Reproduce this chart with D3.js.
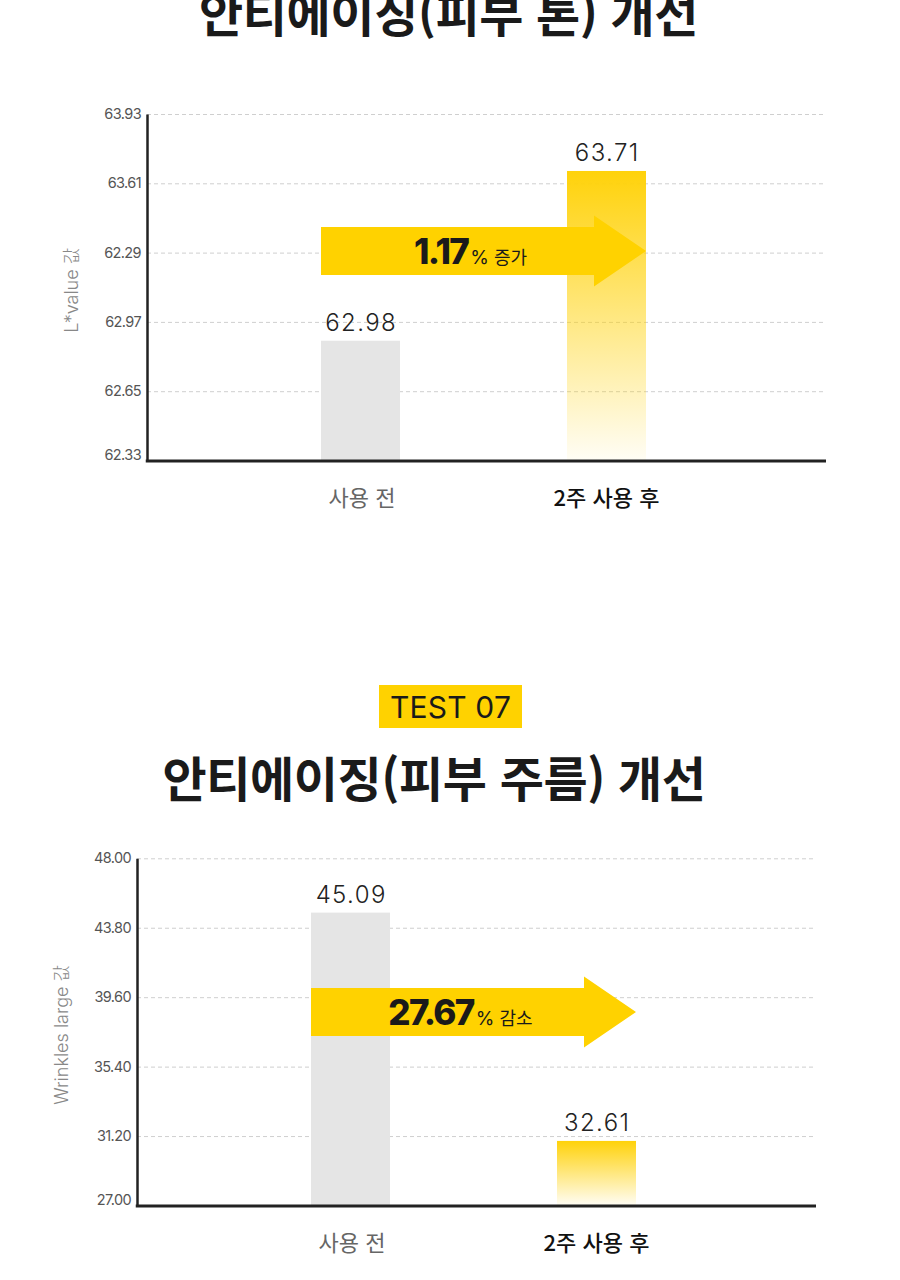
<!DOCTYPE html>
<html lang="ko">
<head>
<meta charset="utf-8">
<script src="https://cdn.jsdelivr.net/npm/d3@7"></script>
<style>
  html, body { margin: 0; padding: 0; background: #fff; }
  svg { display: block; }
  .tick text { font-family: Inter, "Noto Sans", sans-serif; font-size: 14.5px; fill: #555; letter-spacing: -0.6px; }
  .grid line { stroke: #cfcfcf; stroke-dasharray: 4 3; }
  .title { font-family: "Noto Sans CJK KR", sans-serif; font-weight: 700; font-size: 48px; fill: #1a1a1a; letter-spacing: -0.4px; }
  .ylabel { font-family: Inter, "Noto Sans CJK KR", sans-serif; font-weight: 300; font-size: 18px; fill: #888; }
  .value { font-family: Inter, sans-serif; font-weight: 300; font-size: 24px; fill: #222; letter-spacing: 1.4px; }
  .cat { font-family: "Noto Sans CJK KR", sans-serif; font-size: 22px; }
</style>
</head>
<body>
<svg id="chart" width="900" height="1280"></svg>
<script>
const categories = ["사용 전", "2주 사용 후"];

// chart 1: skin tone
const toneValues = [62.98, 63.71];
const toneTickLabels = ["62.33", "62.65", "62.97", "62.29", "63.61", "63.93"];
const toneDomain = [62.465, 63.955];
const toneChange = "1.17";
const toneChangeWord = "증가";

// chart 2: wrinkles
const wrinkleValues = [45.09, 32.61];
const wrinkleTickLabels = ["27.00", "31.20", "35.40", "39.60", "43.80", "48.00"];
const wrinkleDomain = [29.08, 48.06];
const wrinkleChange = "27.67";
const wrinkleChangeWord = "감소";

const YELLOW = "#ffd200";
const svg = d3.select("#chart");

const defs = svg.append("defs");
const grad = defs.append("linearGradient")
  .attr("id", "fade")
  .attr("x1", 0).attr("y1", 0).attr("x2", 0).attr("y2", 1);
grad.append("stop").attr("offset", "0%").attr("stop-color", "#ffd20a").attr("stop-opacity", 1);
grad.append("stop").attr("offset", "100%").attr("stop-color", "#ffd20a").attr("stop-opacity", 0.04);

// titles
svg.append("text").attr("class", "title")
  .attr("x", 448.5).attr("y", 32).attr("text-anchor", "middle")
  .text("안티에이징(피부 톤) 개선");

svg.append("rect")
  .attr("x", 379).attr("y", 685).attr("width", 143).attr("height", 43)
  .attr("fill", YELLOW);
svg.append("text")
  .attr("x", 450.5).attr("y", 717.5).attr("text-anchor", "middle")
  .attr("font-family", "Inter, sans-serif").attr("font-size", 30).attr("fill", "#1a1a1a")
  .attr("letter-spacing", "0.2")
  .text("TEST 07");

svg.append("text").attr("class", "title")
  .attr("x", 434).attr("y", 797).attr("text-anchor", "middle")
  .text("안티에이징(피부 주름) 개선");

drawChart({
  left: 147, right: 826, top: 114, bottom: 460.5,
  values: toneValues, tickLabels: toneTickLabels, domain: toneDomain,
  yLabel: "L*value 값", yLabelX: 78,
  arrowY: 251, change: toneChange, word: toneChangeWord
});

drawChart({
  left: 137, right: 816, top: 858.3, bottom: 1205.5,
  values: wrinkleValues, tickLabels: wrinkleTickLabels, domain: wrinkleDomain,
  yLabel: "Wrinkles large 값", yLabelX: 68,
  arrowY: 1012, change: wrinkleChange, word: wrinkleChangeWord
});

function drawChart(c) {
  const g = svg.append("g");
  const y = d3.scaleLinear().domain(c.domain).range([c.bottom, c.top]);
  const x = d3.scalePoint().domain(categories).range([c.left + 213.5, c.left + 459.5]);
  const barW = 79;
  const n = c.tickLabels.length;
  const tickPos = c.tickLabels.map((_, i) => c.domain[0] + i * (c.domain[1] - c.domain[0]) / (n - 1));

  // grid
  g.append("g")
    .attr("class", "grid")
    .attr("transform", `translate(${c.left},0)`)
    .call(d3.axisLeft(y).tickValues(tickPos.slice(1)).tickSize(-(c.right - c.left)).tickFormat(""))
    .call(s => s.select(".domain").remove());

  // bars
  g.selectAll("rect.bar")
    .data(c.values)
    .join("rect")
    .attr("class", "bar")
    .attr("x", (d, i) => x(categories[i]) - barW / 2)
    .attr("y", d => y(d))
    .attr("width", barW)
    .attr("height", d => c.bottom - y(d))
    .attr("fill", (d, i) => i === 0 ? "#e5e5e5" : "url(#fade)");

  g.selectAll("text.value")
    .data(c.values)
    .join("text")
    .attr("class", "value")
    .attr("x", (d, i) => x(categories[i]) + 0.7)
    .attr("y", d => y(d) - 10)
    .attr("text-anchor", "middle")
    .text(d => d.toFixed(2));

  // arrow
  const x0 = x(categories[0]) - barW / 2;
  const x1 = x(categories[1]) + barW / 2;
  const bodyH = 48, headH = 71, headL = 52;
  const hx = x1 - headL, cy = c.arrowY;
  g.append("path")
    .attr("fill", YELLOW)
    .attr("d", `M${x0},${cy - bodyH / 2} L${hx},${cy - bodyH / 2} L${hx},${cy - headH / 2} L${x1},${cy}
      L${hx},${cy + headH / 2} L${hx},${cy + bodyH / 2} L${x0},${cy + bodyH / 2} Z`);

  const tx = x0 + ((hx - x0) / 2 + (x1 - x0) / 2) / 2;
  const t = g.append("text")
    .attr("x", tx).attr("y", cy + 12.5)
    .attr("text-anchor", "middle")
    .attr("fill", "#1a1a1a");
  t.append("tspan")
    .attr("font-family", "Inter, sans-serif").attr("font-weight", 800)
    .attr("font-size", 35).attr("letter-spacing", "-1.6")
    .text(c.change);
  t.append("tspan")
    .attr("font-family", "Inter, sans-serif").attr("font-size", 19).attr("dx", 2)
    .text("%");
  t.append("tspan")
    .attr("font-family", "'Noto Sans CJK KR', sans-serif").attr("font-size", 18).attr("dx", 5)
    .text(c.word);

  // y axis
  g.append("g")
    .attr("transform", `translate(${c.left},0)`)
    .call(d3.axisLeft(y).tickValues(tickPos).tickSize(0).tickPadding(6).tickFormat((d, i) => c.tickLabels[i]))
    .call(s => s.select(".domain").attr("stroke", "#222").attr("stroke-width", 2.5))
    .call(s => s.selectAll(".tick").filter((d, i) => i === 0).select("text").attr("dy", "-0.05em"));

  // x axis line
  g.append("line")
    .attr("x1", c.left - 1.25).attr("x2", c.right)
    .attr("y1", c.bottom + 0.5).attr("y2", c.bottom + 0.5)
    .attr("stroke", "#222").attr("stroke-width", 3);

  g.selectAll("text.cat")
    .data(categories)
    .join("text")
    .attr("class", "cat")
    .attr("x", d => x(d) + (d === categories[0] ? 1.5 : 0))
    .attr("y", c.bottom + 45)
    .attr("text-anchor", "middle")
    .attr("fill", (d, i) => i === 0 ? "#666" : "#111")
    .attr("font-weight", (d, i) => i === 0 ? 400 : 500)
    .text(d => d);

  g.append("text")
    .attr("class", "ylabel")
    .attr("transform", `translate(${c.yLabelX},${(c.top + c.bottom) / 2 + 3}) rotate(-90)`)
    .attr("text-anchor", "middle")
    .text(c.yLabel);
}
</script>
</body>
</html>
